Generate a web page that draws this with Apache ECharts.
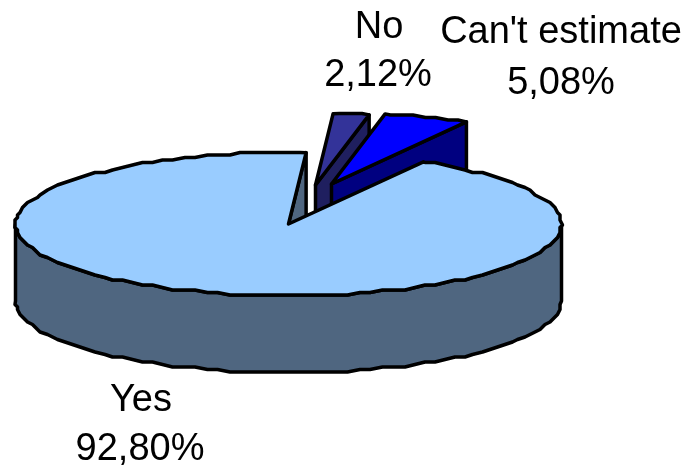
<!DOCTYPE html>
<html>
<head>
<meta charset="utf-8">
<style>html,body{margin:0;padding:0;background:#fff}#c{width:690px;height:468px}</style>
<script src="https://cdn.jsdelivr.net/npm/echarts@6/dist/echarts.min.js"></script>
</head>
<body>
<div id="c"></div>
<script>
var categories = ["No", "Can't estimate", "Yes"];
var values = [2.12, 5.08, 92.80];
var topColors = ['#333399', '#0000ff', '#99ccff'];
var wallColors = ['#1f1f5f', '#000080', '#4f6680'];

var CX = 288.5, CY = 224, RX = 273, RY = 71.5, DEPTH = 77, START = 3.7, SNAP = 2.5;
var offsets = [[27, -39], [43, -40], [0, 0]];
var labelPos = [[[379, 28], [378, 76]], [[561, 33], [561, 84]], [[141, 401], [140, 450]]];

var total = values.reduce(function (a, b) { return a + b; }, 0);
function snap(v) { return Math.round(v / SNAP) * SNAP; }
function rimPoint(deg, off) {
  var t = deg * Math.PI / 180;
  return [snap(CX + RX * Math.sin(t)) + off[0], snap(CY - RY * Math.cos(t)) + off[1]];
}
function exact(deg, off) {
  var t = deg * Math.PI / 180;
  return [CX + RX * Math.sin(t) + off[0], CY - RY * Math.cos(t) + off[1]];
}
function arc(a, b, off) {
  var pts = [exact(a, off)], step = 2.5;
  var d = (Math.floor(a / step) + 1) * step;
  while (d < b) { pts.push(rimPoint(d, off)); d += step; }
  pts.push(exact(b, off));
  return pts;
}
function down(p) { return [p[0], p[1] + DEPTH]; }
function poly(points, fill) {
  return { type: 'polygon', shape: { points: points },
    style: { fill: fill, stroke: '#000', lineWidth: 3.5, lineJoin: 'round' } };
}
function label(text, pos) {
  return { type: 'text', style: { text: text, x: pos[0], y: pos[1], fill: '#000',
    font: '38px "Liberation Sans", Arial, sans-serif', textAlign: 'center', textVerticalAlign: 'middle' } };
}

var option = {
  backgroundColor: '#fff',
  animation: false,
  series: [{
    type: 'custom',
    coordinateSystem: 'none',
    silent: true,
    data: values.map(function (v) { return [v]; }),
    renderItem: function (params, api) {
      var i = params.dataIndex, before = 0;
      for (var k = 0; k < i; k++) before += values[k];
      var a0 = START + before / total * 360;
      var a1 = a0 + api.value(0) / total * 360;
      var off = offsets[i];
      var apex = [CX + off[0], CY + off[1]];
      var rim = arc(a0, a1, off);
      var children = [];
      if (i === 2) {
        var s = exact(a1, off);
        children.push(poly([apex, s, down(s), down(apex)], wallColors[i]));
        var front = arc(90, 270, off);
        var wall = front.concat(front.map(down).reverse());
        children.push(poly(wall, wallColors[i]));
      } else {
        var e = exact(a1, off);
        children.push(poly([apex, e, down(e), down(apex)], wallColors[i]));
      }
      children.push(poly([apex].concat(rim), topColors[i]));
      children.push(label(categories[i], labelPos[i][0]));
      children.push(label(api.value(0).toFixed(2).replace('.', ',') + '%', labelPos[i][1]));
      return { type: 'group', children: children };
    }
  }]
};
echarts.init(document.getElementById('c'), null, { renderer: 'canvas' }).setOption(option);
</script>
</body>
</html>
